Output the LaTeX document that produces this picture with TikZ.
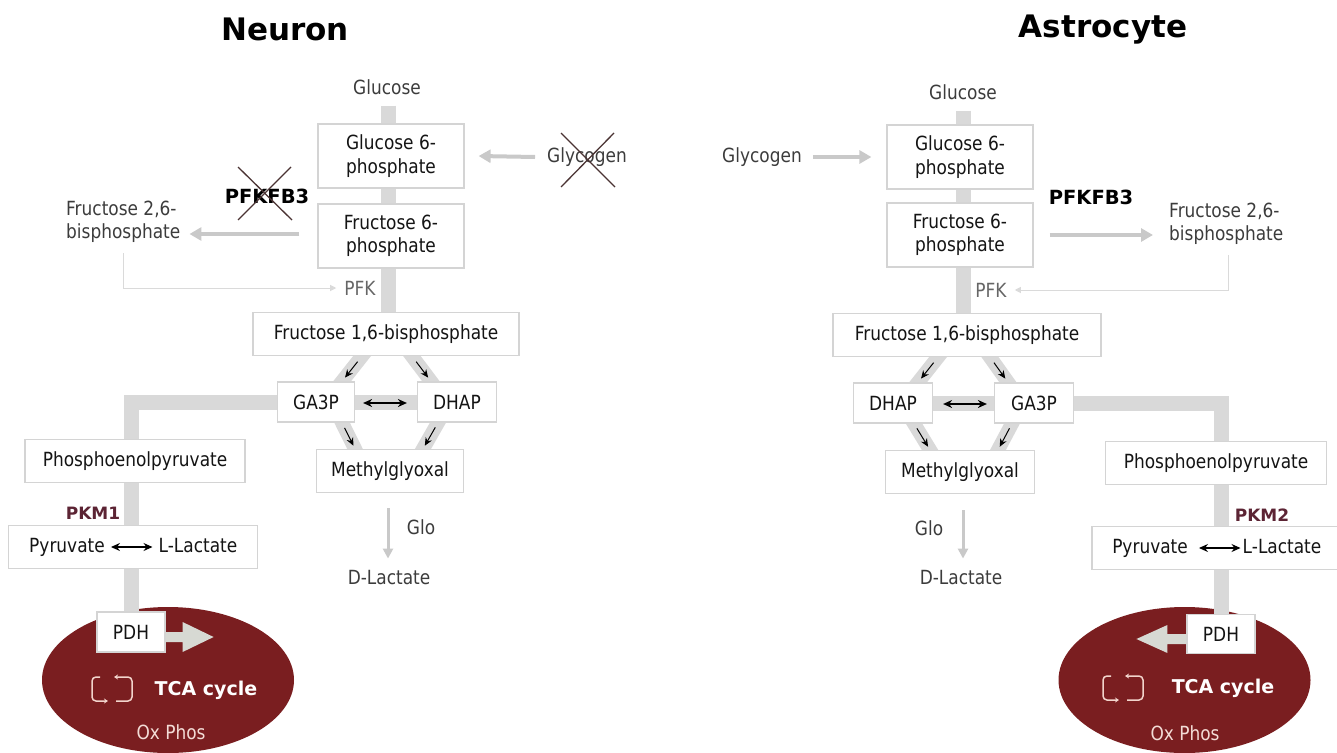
\documentclass[tikz,border=0pt]{standalone}
\usepackage{fontspec}
\setmainfont{DejaVu Sans}[FakeStretch=0.87]
\newfontfamily\wideFont{DejaVu Sans}
\usetikzlibrary{arrows.meta,calc,shapes.geometric}
\definecolor{bandgray}{HTML}{D9D9D9}
\definecolor{boxline}{HTML}{D4D4D4}
\definecolor{arrowgray}{HTML}{C9C9C9}
\definecolor{thingray}{HTML}{DADADA}
\definecolor{mito}{HTML}{7A1E20}
\definecolor{pkmcol}{HTML}{5C2434}
\definecolor{crosscol}{HTML}{4A3333}
\definecolor{iconcol}{HTML}{F2D4CC}
\definecolor{oxcol}{HTML}{F3DCD6}
\definecolor{pdharrowcol}{HTML}{D7D9D3}
\definecolor{txt}{HTML}{141414}
\definecolor{lblgray}{HTML}{3C3C3C}
\definecolor{pfkgray}{HTML}{666666}
\pgfdeclarelayer{bg}
\pgfdeclarelayer{bandlayer}
\pgfsetlayers{bg,bandlayer,main}
\begin{document}
\begin{tikzpicture}[x=1pt,y=-1pt,
  every node/.style={inner sep=2pt, font=\fontsize{19.5}{23.5}\selectfont, text=txt},
  box/.style={draw=boxline, line width=1.2pt, fill=white, align=center, inner sep=0pt},
  lbl/.style={text=lblgray, align=center},
  fixh/.style={text height=14pt, text depth=4pt},
  pfklbl/.style={text=pfkgray},
  boldlbl/.style={font=\wideFont\bfseries\fontsize{19.5}{22}\selectfont, text=black},
  titlelbl/.style={font=\wideFont\bfseries\fontsize{31}{36}\selectfont, text=black},
  pkm/.style={font=\wideFont\bfseries\fontsize{17}{20}\selectfont, text=pkmcol},
  tca/.style={font=\wideFont\bfseries\fontsize{19}{22}\selectfont, text=white},
  ox/.style={text=oxcol},
  mitonode/.style={ellipse, fill=mito, minimum width=252pt, minimum height=146pt, inner sep=0pt},
  band/.style={draw=bandgray, line width=15pt},
  diag/.style={draw=bandgray, line width=14pt, shorten <=-8pt, shorten >=-8pt},
  grayarrow/.style={draw=arrowgray, line width=4pt, -{Triangle[length=12pt,width=13pt]}},
  thinarrow/.style={draw=thingray, line width=1pt, -{Triangle[length=6pt,width=6pt]}},
  gloarrow/.style={draw=arrowgray, line width=3pt, -{Triangle[length=10pt,width=10pt]}},
  blk/.style={draw=black, line width=1pt, -{Stealth[length=8pt,width=7pt]}},
  dbl/.style={draw=black, line width=1.2pt, {Stealth[length=9pt,width=8pt]}-{Stealth[length=9pt,width=8pt]}},
  cross/.style={draw=crosscol, line width=1.3pt},
  iconline/.style={draw=iconcol, line width=1.5pt, rounded corners=4pt},
  bigarrow/.style={fill=pdharrowcol}
]
\useasboundingbox (0,0) rectangle (1337,752);

% ---------------- titles
\node[titlelbl] (tN) at (285,29) {Neuron};
\node[titlelbl] (tA) at (1103,30) {Astrocyte};

\begin{pgfonlayer}{bg}
\node[mitonode] (mitoL) at (168,680) {};
\node[mitonode] (mitoR) at (1184.5,680) {};
\end{pgfonlayer}

% ================= NEURON =================
\node[lbl] (glcL) at (387,87) {Glucose};
\node[box, minimum width=146pt, minimum height=64pt] (g6pL) at (391,156) {Glucose 6-\\phosphate};
\node[box, minimum width=146pt, minimum height=64pt] (f6pL) at (391,236) {Fructose 6-\\phosphate};
\node[lbl] (glygL) at (587,157) {Glycogen};
\node[boldlbl] (pfkfbL) at (267,196) {PFKFB3};
\node[lbl, align=left, anchor=west, inner sep=0pt] (f26L) at (66,222) {Fructose 2,6-\\bisphosphate};
\node[pfklbl] (pfkL) at (360,288) {PFK};
\node[box, minimum width=266pt, minimum height=43pt] (f16L) at (386,334) {Fructose 1,6-bisphosphate};
\node[box, minimum width=77pt, minimum height=40pt] (ga3pL) at (316,402) {GA3P};
\node[box, minimum width=79pt, minimum height=40pt] (dhapL) at (457,402) {DHAP};
\node[box, minimum width=147pt, minimum height=43pt] (mgL) at (390,471) {Methylglyoxal};
\node[box, minimum width=220pt, minimum height=43pt] (pepL) at (135,461) {Phosphoenolpyruvate};
\node[pkm] (pkm1) at (93,513) {PKM1};
\node[box, minimum width=249pt, minimum height=43pt] (pyrL) at (133,547) {};
\node[fixh] (pyrtL) at (67,547) {Pyruvate};
\node[fixh] (lacL) at (198,547) {L-Lactate};
\node[box, minimum width=68pt, minimum height=40pt] (pdhL) at (131,632) {PDH};
\node[lbl] (gloL) at (421,527) {Glo};
\node[lbl] (dlacL) at (389,578) {D-Lactate};
\node[tca] (tcaL) at (206,690) {TCA cycle};
\node[ox] (oxL) at (171,732) {Ox Phos};
\coordinate (iconL) at (112,689);

\coordinate (d1a) at ($(f16L.south)+(-24,0)$);
\coordinate (d1b) at ($(ga3pL.north)+(26,0)$);
\coordinate (d2a) at ($(f16L.south)+(26,0)$);
\coordinate (d2b) at ($(dhapL.north)+(-26,0)$);
\coordinate (d3a) at ($(ga3pL.south)+(26,0)$);
\coordinate (d3b) at ($(mgL.north)+(-35,0)$);
\coordinate (d4a) at ($(dhapL.south)+(-19,0)$);
\coordinate (d4b) at ($(mgL.north)+(33,0)$);
\begin{pgfonlayer}{bandlayer}
\draw[band] ($(glcL.south)+(1,9)$) -- ($(glcL.south |- f16L.center)+(1,0)$);
\draw[band] (ga3pL.center) -| (pdhL.center);
\draw[band] (ga3pL.center) -- (dhapL.center);
\draw[diag] (d1a) -- (d1b);
\draw[diag] (d2a) -- (d2b);
\draw[diag] (d3a) -- (d3b);
\draw[diag] (d4a) -- (d4b);
\end{pgfonlayer}

\draw[blk] ($(d1a)!0.22!(d1b)$) -- ($(d1a)!0.85!(d1b)$);
\draw[blk] ($(d2a)!0.22!(d2b)$) -- ($(d2a)!0.85!(d2b)$);
\draw[blk] ($(d3a)!0.2!(d3b)$) -- ($(d3a)!0.88!(d3b)$);
\draw[blk] ($(d4a)!0.18!(d4b)$) -- ($(d4a)!0.88!(d4b)$);
\draw[dbl] ($(ga3pL.east)+(8,1)$) -- ($(dhapL.west)+(-10,1)$);
\draw[dbl] ($(pyrtL.east)+(4,0)$) -- ($(lacL.west)+(-4,0)$);

\draw[grayarrow] ($(glygL.west)+(-10,0)$) -- ($(g6pL.east)+(14,0)$);
\draw[grayarrow] ($(f6pL.west)+(-18,-2)$) -- ($(f26L.east |- f6pL.west)+(9,-2)$);
\draw[thinarrow] ($(f26L.south)+(0,10)$) |- ($(pfkL.west)+(-6,0)$);
\draw[gloarrow] ($(mgL.south)+(-2,15)$) -- ($(dlacL.north)+(-1,-10)$);

\fill[bigarrow] (pdhL.east) -- ++(17,0) -- ++(0,-10) -- ++(31,15) -- ++(-31,15) -- ++(0,-10) -- ++(-17,0) -- cycle;

\begin{scope}[shift={(iconL)}]
\draw[iconline, -{Stealth[length=4pt,width=5pt]}] (-12,-12) -- (-20,-12) -- (-20,12) -- (-4,12);
\draw[iconline, -{Stealth[length=4pt,width=5pt]}] (4,12) -- (20,12) -- (20,-12) -- (2,-12);
\end{scope}

\draw[cross] ($(glygL.center)+(-26,-24)$) -- ($(glygL.center)+(28,30)$);
\draw[cross] ($(glygL.center)+(27,-24)$) -- ($(glygL.center)+(-26,30)$);
\draw[cross] ($(pfkfbL.center)+(-29,-29)$) -- ($(pfkfbL.center)+(25,24)$);
\draw[cross] ($(pfkfbL.center)+(24,-29)$) -- ($(pfkfbL.center)+(-29,24)$);

% ================= ASTROCYTE =================
\node[lbl] (glcR) at (963,92) {Glucose};
\node[box, minimum width=146pt, minimum height=64pt] (g6pR) at (960,157) {Glucose 6-\\phosphate};
\node[box, minimum width=146pt, minimum height=64pt] (f6pR) at (960,235) {Fructose 6-\\phosphate};
\node[lbl] (glygR) at (762,157) {Glycogen};
\node[boldlbl] (pfkfbR) at (1091,197) {PFKFB3};
\node[lbl, align=left, anchor=west, inner sep=0pt] (f26R) at (1169,224) {Fructose 2,6-\\bisphosphate};
\node[pfklbl] (pfkR) at (991,290) {PFK};
\node[box, minimum width=268pt, minimum height=43pt] (f16R) at (967,335) {Fructose 1,6-bisphosphate};
\node[box, minimum width=79pt, minimum height=40pt] (dhapR) at (893,403) {DHAP};
\node[box, minimum width=79pt, minimum height=40pt] (ga3pR) at (1034,403) {GA3P};
\node[box, minimum width=149pt, minimum height=43pt] (mgR) at (960,472) {Methylglyoxal};
\node[box, minimum width=221pt, minimum height=43pt] (pepR) at (1216,463) {Phosphoenolpyruvate};
\node[pkm] (pkm2) at (1262,515) {PKM2};
\node[box, minimum width=248pt, minimum height=43pt] (pyrR) at (1216,548) {};
\node[fixh] (pyrtR) at (1150,548) {Pyruvate};
\node[fixh] (lacR) at (1282,548) {L-Lactate};
\node[box, minimum width=68pt, minimum height=39pt] (pdhR) at (1221,634) {PDH};
\node[lbl] (gloR) at (929,528) {Glo};
\node[lbl] (dlacR) at (961,578) {D-Lactate};
\node[tca] (tcaR) at (1223,688) {TCA cycle};
\node[ox] (oxR) at (1185,733) {Ox Phos};
\coordinate (iconR) at (1123,688);

\coordinate (e1a) at ($(f16R.south)+(-29,0)$);
\coordinate (e1b) at ($(dhapR.north)+(25,0)$);
\coordinate (e2a) at ($(f16R.south)+(23,0)$);
\coordinate (e2b) at ($(ga3pR.north)+(-26,0)$);
\coordinate (e3a) at ($(dhapR.south)+(21,0)$);
\coordinate (e3b) at ($(mgR.north)+(-30,0)$);
\coordinate (e4a) at ($(ga3pR.south)+(-22,0)$);
\coordinate (e4b) at ($(mgR.north)+(38,0)$);
\begin{pgfonlayer}{bandlayer}
\draw[band] ($(glcR.south)+(0,9)$) -- ($(glcR.south |- f16R.center)$);
\draw[band] (ga3pR.center) -| (pdhR.center);
\draw[band] (dhapR.center) -- (ga3pR.center);
\draw[diag] (e1a) -- (e1b);
\draw[diag] (e2a) -- (e2b);
\draw[diag] (e3a) -- (e3b);
\draw[diag] (e4a) -- (e4b);
\end{pgfonlayer}

\draw[blk] ($(e1a)!0.22!(e1b)$) -- ($(e1a)!0.85!(e1b)$);
\draw[blk] ($(e2a)!0.22!(e2b)$) -- ($(e2a)!0.85!(e2b)$);
\draw[blk] ($(e3a)!0.18!(e3b)$) -- ($(e3a)!0.88!(e3b)$);
\draw[blk] ($(e4a)!0.18!(e4b)$) -- ($(e4a)!0.88!(e4b)$);
\draw[dbl] ($(dhapR.east)+(10,1)$) -- ($(ga3pR.west)+(-7,1)$);
\draw[dbl] ($(pyrtR.east)+(9,0)$) -- ($(lacR.west)+(0,0)$);

\draw[grayarrow] ($(glygR.east)+(9,0)$) -- ($(g6pR.west)+(-15,0)$);
\draw[grayarrow] ($(f6pR.east)+(16,0)$) -- ($(f26R.west |- f6pR.east)+(-16,0)$);
\draw[thinarrow] ($(f26R.south)+(2,10)$) |- ($(pfkR.east)+(6,0)$);
\draw[gloarrow] ($(mgR.south)+(3,16)$) -- ($(dlacR.north)+(2,-10)$);

\fill[bigarrow] (pdhR.west) -- ++(-19,0) -- ++(0,-9) -- ++(-31,14) -- ++(31,14) -- ++(0,-9) -- ++(19,0) -- cycle;

\begin{scope}[shift={(iconR)}]
\draw[iconline, -{Stealth[length=4pt,width=5pt]}] (-12,-12) -- (-20,-12) -- (-20,12) -- (-4,12);
\draw[iconline, -{Stealth[length=4pt,width=5pt]}] (4,12) -- (20,12) -- (20,-12) -- (2,-12);
\end{scope}
\end{tikzpicture}
\end{document}
